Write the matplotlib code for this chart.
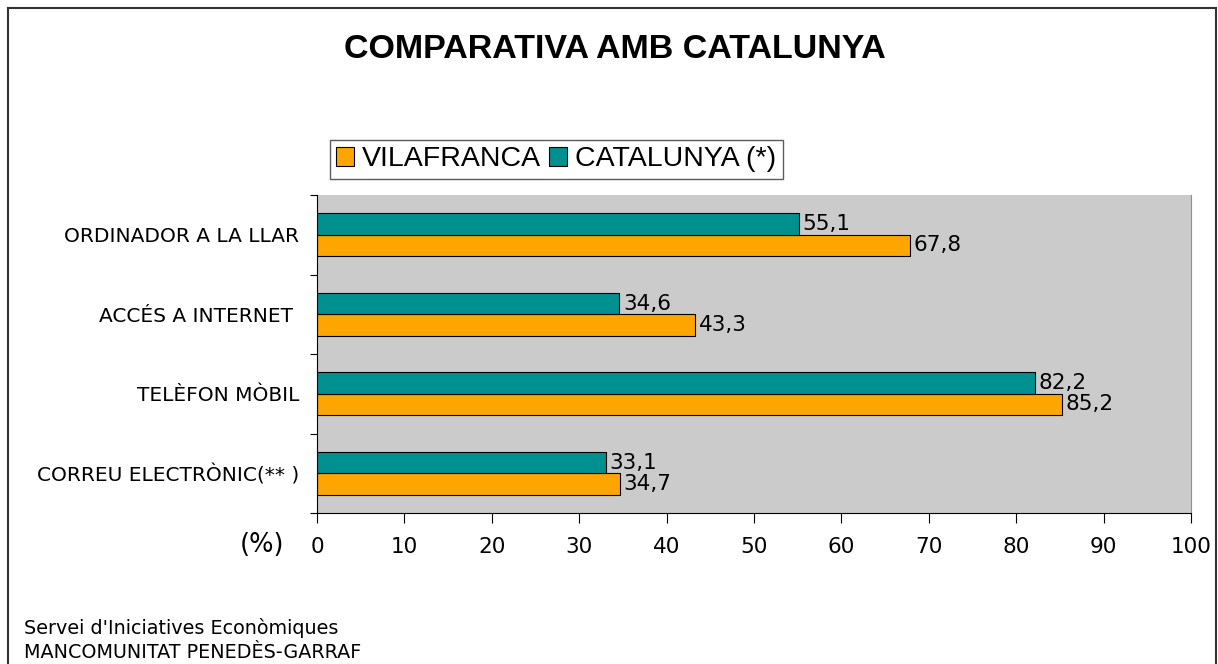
import numpy as np
import matplotlib.pyplot as plt
from matplotlib.patches import Patch
from matplotlib.lines import Line2D

# dades
categories = ['CORREU ELECTRÒNIC(** )', 'TELÈFON MÒBIL', 'ACCÉS A INTERNET ', 'ORDINADOR A LA LLAR']
vilafranca = [34.7, 85.2, 43.3, 67.8]
catalunya = [33.1, 82.2, 34.6, 55.1]
series_names = ['VILAFRANCA', 'CATALUNYA (*)']
xticks = [0, 10, 20, 30, 40, 50, 60, 70, 80, 90, 100]

orange = '#FFA500'
teal = '#009090'
label_font = 'DejaVu Sans'

fig = plt.figure(figsize=(12.18, 6.64), dpi=100)
W, H = 1218, 664
ax = fig.add_axes([317 / W, 1 - 513 / H, (1191 - 317) / W, (513 - 195) / H])
ax.set_facecolor('#CBCBCB')

y = np.arange(len(categories))
h = 0.27
ax.barh(y - h / 2, vilafranca, height=h, color=orange, edgecolor='black', linewidth=0.8)
ax.barh(y + h / 2, catalunya, height=h, color=teal, edgecolor='black', linewidth=0.8)

for yi, v in zip(y, vilafranca):
    ax.text(v + 0.4, yi - h / 2, f'{v:.1f}'.replace('.', ','), va='center', ha='left',
            fontsize=15.5, family=label_font)
for yi, v in zip(y, catalunya):
    ax.text(v + 0.4, yi + h / 2, f'{v:.1f}'.replace('.', ','), va='center', ha='left',
            fontsize=15.5, family=label_font)

ax.set_xlim(0, 100)
ax.set_ylim(-0.5, len(categories) - 0.5)
ax.set_xticks(xticks)
ax.set_xticklabels([str(t) for t in xticks], fontsize=15.5, family=label_font)
ax.tick_params(axis='x', length=7, width=0.8, pad=10)

ax.set_yticks(np.arange(-0.5, len(categories), 1.0))
ax.set_yticklabels([])
ax.set_yticks(y, minor=True)
ax.set_yticklabels(categories, minor=True, fontsize=14.5, family=label_font)
ax.tick_params(axis='y', which='major', length=5, width=0.8)
ax.tick_params(axis='y', which='minor', length=0, pad=13)

ax.spines['top'].set_visible(False)
ax.spines['right'].set_color('#909090')
ax.spines['left'].set_color('black')
ax.spines['bottom'].set_color('black')

fig.text(262 / W, 1 - 545 / H, '(%)', ha='center', va='center', fontsize=18.5, family=label_font)

fig.text(615 / W, 1 - 50 / H, 'COMPARATIVA AMB CATALUNYA', ha='center', va='center',
         fontsize=24.5, fontweight='bold', family='Liberation Sans')

handles = [Patch(facecolor=orange, edgecolor='black', linewidth=0.8),
           Patch(facecolor=teal, edgecolor='black', linewidth=0.8)]
leg = fig.legend(handles, series_names, loc='upper left', bbox_to_anchor=(330 / W, 1 - 140 / H),
                 ncol=2, prop={'family': 'Liberation Sans', 'size': 20.5}, frameon=True, fancybox=False,
                 handlelength=0.63, handleheight=0.63, handletextpad=0.28, columnspacing=0.28,
                 borderpad=0.22, borderaxespad=0)
leg.get_frame().set_edgecolor('#333333')
leg.get_frame().set_linewidth(1.0)

fig.text(24 / W, 1 - 628 / H, "Servei d'Iniciatives Econòmiques", ha='left', va='center',
         fontsize=13.8, family=label_font)
fig.text(24 / W, 1 - 652 / H, 'MANCOMUNITAT PENEDÈS-GARRAF', ha='left', va='center',
         fontsize=13.8, family=label_font)

# marc exterior
for xs, ys in [([8, 8], [664, 8]), ([8, 1216], [8, 8]), ([1216, 1216], [8, 664])]:
    fig.add_artist(Line2D([x / W for x in xs], [1 - v / H for v in ys], color='#333333', lw=1.5,
                          transform=fig.transFigure))

fig.savefig('out.png', dpi=100)
